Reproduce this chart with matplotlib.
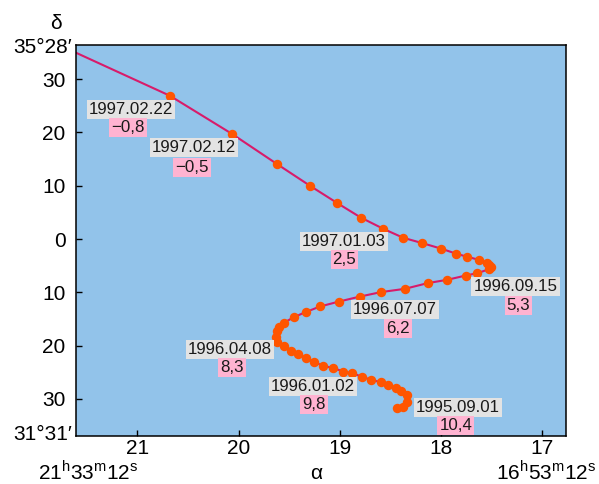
import matplotlib.pyplot as plt

plt.rcParams['font.family'] = ['Liberation Sans', 'DejaVu Sans']
plt.rcParams['mathtext.fontset'] = 'custom'
plt.rcParams['mathtext.rm'] = 'Liberation Sans'

# track of the comet: right ascension (hours) and declination (chart units)
alpha = [20.677, 20.061, 19.623, 19.293, 19.024, 18.792, 18.569, 18.372,
         18.184, 18.002, 17.854, 17.739, 17.624, 17.547, 17.520, 17.505,
         17.525, 17.640, 17.755, 17.937, 18.130, 18.355, 18.592, 18.799,
         19.007, 19.195, 19.336, 19.452, 19.547, 19.597, 19.623, 19.629,
         19.617, 19.547, 19.481, 19.415, 19.336, 19.251, 19.162, 19.063,
         18.964, 18.881, 18.783, 18.691, 18.595, 18.520, 18.447, 18.394,
         18.332, 18.338, 18.372, 18.431]
delta = [26.87, 19.68, 14.11, 9.98, 6.74, 4.03, 1.91, 0.23,
         -0.77, -1.78, -2.72, -3.34, -3.90, -4.52, -4.93, -5.31,
         -5.68, -6.40, -6.85, -7.65, -8.27, -9.34, -9.96, -10.79,
         -11.73, -12.66, -13.71, -14.65, -15.67, -16.42, -17.35, -18.29,
         -19.23, -20.04, -20.92, -21.54, -22.35, -23.10, -23.79, -24.22,
         -24.86, -25.16, -25.80, -26.42, -26.85, -27.35, -27.97, -28.48,
         -29.23, -30.49, -31.43, -31.73]
# the line comes in from beyond the left edge
start_alpha = 21.75
start_delta = 36.2

dates = ['1997.02.22', '1997.02.12', '1997.01.03', '1996.09.15',
         '1996.07.07', '1996.04.08', '1996.01.02', '1995.09.01']
mags = ['\u22120,8', '\u22120,5', '2,5', '5,3', '6,2', '8,3', '9,8', '10,4']
date_pos = [(21.062, 24.24), (20.443, 17.11), (18.962, -0.53), (17.263, -8.97),
            (18.458, -13.28), (20.084, -20.69), (19.264, -27.67), (17.831, -31.58)]
mag_pos = [(21.092, 20.86), (20.459, 13.36), (18.953, -3.90), (17.233, -12.53),
           (18.424, -16.75), (20.067, -24.07), (19.256, -31.11), (17.853, -35.01)]

xticks = [21, 20, 19, 18, 17]
yticks = [30, 20, 10, 0, -10, -20, -30]
ytick_labels = ['30', '20', '10', '0', '10', '20', '30']

fig = plt.figure(figsize=(5.99, 4.84), dpi=100)
ax = fig.add_axes([0.1269, 0.0998, 0.8175, 0.8072])
ax.set_facecolor('#92C3EA')
ax.set_xlim(21.606, 16.767)
ax.set_ylim(-36.9, 36.4)

ax.plot([start_alpha] + alpha, [start_delta] + delta, color='#D81B6A',
        lw=1.5, zorder=2)
ax.plot(alpha, delta, 'o', color='#FF5500', ms=6.8, mec='none', zorder=3)

for d, p in zip(dates, date_pos):
    ax.text(p[0], p[1], d, fontsize=12.2, ha='center', va='center', color='#1a1a1a',
            bbox=dict(boxstyle='square,pad=0.12', fc='#E3E3E3', ec='none'), zorder=4)
for m, p in zip(mags, mag_pos):
    ax.text(p[0], p[1], m, fontsize=12.2, ha='center', va='center', color='#1a1a1a',
            bbox=dict(boxstyle='square,pad=0.12', fc='#FFB3D1', ec='none'), zorder=4)

ax.set_xticks(xticks)
ax.set_xticklabels([str(t) for t in xticks])
ax.set_yticks(yticks)
ax.set_yticklabels(ytick_labels)
ax.tick_params(direction='in', length=4.3, width=1, labelsize=15)
ax.tick_params(axis='x', pad=2.2)
ax.tick_params(axis='y', pad=7.5)
for s in ax.spines.values():
    s.set_linewidth(1.1)

# limit labels and axis names
ax.annotate('35\u00b028\u2032', xy=(0, 1), xycoords='axes fraction',
            xytext=(-3, -2), textcoords='offset points', ha='right', va='center',
            fontsize=15)
ax.annotate('31\u00b031\u2032', xy=(0, 0), xycoords='axes fraction',
            xytext=(-3, 1), textcoords='offset points', ha='right', va='center',
            fontsize=15)
ax.annotate(r'21$^{\rm h}$33$^{\rm m}$12$^{\rm s}$', xy=(0, 0), xycoords='axes fraction',
            xytext=(-27.4, -31.2), textcoords='offset points', ha='left', va='baseline',
            fontsize=15)
ax.annotate(r'16$^{\rm h}$53$^{\rm m}$12$^{\rm s}$', xy=(1, 0), xycoords='axes fraction',
            xytext=(22.3, -31.2), textcoords='offset points', ha='right', va='baseline',
            fontsize=15)
ax.annotate('\u03b4', xy=(0, 1), xycoords='axes fraction',
            xytext=(-14.8, 15.8), textcoords='offset points', ha='center', va='center',
            fontsize=15)
ax.annotate('\u03b1', xy=(0.490, 0), xycoords='axes fraction',
            xytext=(0, -27.4), textcoords='offset points', ha='center', va='center',
            fontsize=15)

fig.savefig('out.png', dpi=100)
